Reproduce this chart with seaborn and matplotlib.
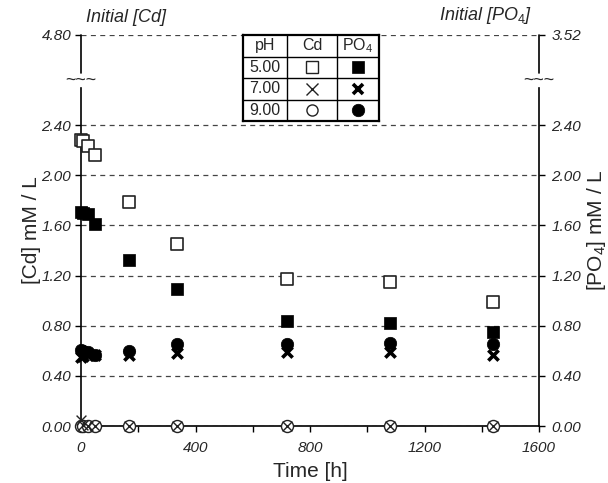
import matplotlib
matplotlib.use("Agg")
import matplotlib.pyplot as plt
import seaborn as sns
import pandas as pd
from matplotlib.ticker import FixedLocator, MultipleLocator

# ---------------- data ----------------
time_h = [0, 6, 24, 48, 168, 336, 720, 1080, 1440]
cd_ph5 = [2.28, 2.27, 2.23, 2.16, 1.79, 1.45, 1.17, 1.15, 0.99]
po4_ph5 = [1.71, 1.70, 1.69, 1.61, 1.32, 1.09, 0.84, 0.82, 0.75]
cd_ph7 = [0.05, 0.01, 0.0, 0.0, 0.0, 0.0, 0.0, 0.0, 0.0]
po4_ph7 = [0.55, 0.56, 0.57, 0.57, 0.57, 0.58, 0.59, 0.59, 0.57]
cd_ph9 = [0.0, 0.0, 0.0, 0.0, 0.0, 0.0, 0.0, 0.0, 0.0]
po4_ph9 = [0.61, 0.60, 0.59, 0.57, 0.60, 0.65, 0.65, 0.66, 0.65]

y_ticks = [0.0, 0.4, 0.8, 1.2, 1.6, 2.0, 2.4]
x_ticks = [0, 400, 800, 1200, 1600]
initial_cd = 4.80
initial_po4 = 3.52
ph_labels = ["5.00", "7.00", "9.00"]

# ---------------- style ----------------
sns.set_theme(style="ticks")
plt.rcParams["font.family"] = ["Liberation Sans", "DejaVu Sans"]
plt.rcParams["mathtext.fontset"] = "custom"
plt.rcParams["mathtext.rm"] = "Liberation Sans"
plt.rcParams["mathtext.it"] = "Liberation Sans:italic"

W, H = 608, 483
fig = plt.figure(figsize=(W / 100, H / 100), dpi=100)
fig.patch.set_facecolor("white")

L, R, B, T = 81, 539, 426, 35
ax = fig.add_axes([L / W, 1 - B / H, (R - L) / W, (B - T) / H])
ax.set_facecolor("white")
TOP = 3.118          # broken-axis position of the "initial" level
BRK_LO, BRK_HI = 2.695, 2.815

ax.set_xlim(0, 1600)
ax.set_ylim(0, TOP)

df = pd.DataFrame({"t": time_h, "cd5": cd_ph5, "po5": po4_ph5, "cd7": cd_ph7,
                   "po7": po4_ph7, "cd9": cd_ph9, "po9": po4_ph9})

common = dict(ax=ax, clip_on=False, zorder=5, legend=False)
sns.scatterplot(data=df, x="t", y="po9", marker="o", s=80, color="black",
                edgecolor="black", linewidth=0.5, **common)
sns.scatterplot(data=df, x="t", y="po7", marker="x", s=55, color="black",
                linewidth=2.6, **common)
sns.scatterplot(data=df, x="t", y="po5", marker="s", s=70, color="black",
                edgecolor="black", linewidth=0.5, **common)
sns.scatterplot(data=df, x="t", y="cd5", marker="s", s=70, color="white",
                edgecolor="#222222", linewidth=1.2, **common)
sns.scatterplot(data=df, x="t", y="cd9", marker="o", s=75, color="white",
                edgecolor="#222222", linewidth=1.0, **common)
sns.scatterplot(data=df, x="t", y="cd7", marker="x", s=50, color="#222222",
                linewidth=1.0, **common)

ax.set_xlabel("Time [h]", fontsize=15, labelpad=5)
ax.set_ylabel("[Cd] mM / L", fontsize=15)
ax.yaxis.set_label_coords(-0.088, 0.5)

# ticks
ax.xaxis.set_major_locator(FixedLocator(x_ticks))
ax.xaxis.set_minor_locator(MultipleLocator(200))
ax.set_yticks(y_ticks + [TOP])
ax.set_yticklabels([f"{v:.2f}" for v in y_ticks] + [f"{initial_cd:.2f}"])
ax.tick_params(axis="both", which="both", direction="out", length=4, width=1,
               color="black", labelsize=11, pad=3)
ax.tick_params(axis="x", which="both", pad=7)
for lab in ax.get_xticklabels() + ax.get_yticklabels():
    lab.set_fontstyle("italic")

# grid
ax.yaxis.grid(True, linestyle=(0, (4, 3.5)), color="#444444", linewidth=0.9)
ax.xaxis.grid(False)
ax.set_axisbelow(True)

for s in ["top", "right"]:
    ax.spines[s].set_visible(False)
for s in ["left", "bottom"]:
    ax.spines[s].set_color("black")
    ax.spines[s].set_linewidth(1.2)
ax.spines["left"].set_bounds(0, BRK_LO)

ytr = ax.get_yaxis_transform()
ax.plot([0, 0], [BRK_HI, TOP], transform=ytr, color="black", lw=1.2, clip_on=False)
ax.plot([1, 1], [BRK_HI, TOP], transform=ytr, color="black", lw=1.2, clip_on=False)
ax.text(0, (BRK_LO + BRK_HI) / 2, "~~~", transform=ytr, ha="center", va="center",
        fontsize=13, clip_on=False)
ax.text(1, (BRK_LO + BRK_HI) / 2, "~~~", transform=ytr, ha="center", va="center",
        fontsize=13, clip_on=False)

# right axis
ax2 = ax.twinx()
ax2.set_ylim(0, TOP)
ax2.set_yticks(y_ticks + [TOP])
ax2.set_yticklabels([f"{v:.2f}" for v in y_ticks] + [f"{initial_po4:.2f}"])
ax2.tick_params(axis="y", direction="out", length=4, width=1, color="black",
                labelsize=11, pad=5)
for lab in ax2.get_yticklabels():
    lab.set_fontstyle("italic")
for s in ["top", "left", "bottom"]:
    ax2.spines[s].set_visible(False)
ax2.spines["right"].set_color("black")
ax2.spines["right"].set_linewidth(1.2)
ax2.spines["right"].set_bounds(0, BRK_LO)
ax2.set_ylabel("[PO$_4$] mM / L", fontsize=15, rotation=90)
ax2.yaxis.set_label_coords(1.1, 0.5)
ax2.grid(False)

# "Initial" annotations
ax.text(0.012, TOP + 0.07, "Initial [Cd]", transform=ytr, fontsize=13,
        fontstyle="italic", ha="left", va="bottom")
ax.text(0.985, TOP + 0.07, "Initial [PO$_4$]", transform=ytr, fontsize=13,
        fontstyle="italic", ha="right", va="bottom")

# ---------------- legend table ----------------
tx0, tx1, ty0, ty1 = 243, 379, 35, 121
tab = fig.add_axes([tx0 / W, 1 - ty1 / H, (tx1 - tx0) / W, (ty1 - ty0) / H])
tab.set_xlim(tx0, tx1)
tab.set_ylim(ty1, ty0)
tab.set_facecolor("white")
for s in tab.spines.values():
    s.set_color("black")
    s.set_linewidth(1.6)
tab.set_xticks([])
tab.set_yticks([])
cols = [243, 287, 337, 379]
rows = [35, 56.5, 78, 99.5, 121]
for c in cols[1:-1]:
    tab.plot([c, c], [ty0, ty1], color="black", lw=1.0)
for r in rows[1:-1]:
    tab.plot([tx0, tx1], [r, r], color="black", lw=1.0)
cx = [(cols[i] + cols[i + 1]) / 2 for i in range(3)]
cy = [(rows[i] + rows[i + 1]) / 2 for i in range(4)]
for txt, x in zip(["pH", "Cd", "PO$_4$"], cx):
    tab.text(x, cy[0], txt, ha="center", va="center", fontsize=11.5)
for lab, y in zip(ph_labels, cy[1:]):
    tab.text(cx[0], y, lab, ha="center", va="center", fontsize=11.5)
cd_style = [dict(marker="s", ms=8, mfc="white", mec="#222222", mew=1.0),
            dict(marker="x", ms=8, mfc="none", mec="#222222", mew=1.0),
            dict(marker="o", ms=8, mfc="white", mec="#222222", mew=1.0)]
po_style = [dict(marker="s", ms=8, mfc="black", mec="black", mew=0.5),
            dict(marker="x", ms=7, mfc="none", mec="black", mew=2.6),
            dict(marker="o", ms=9, mfc="black", mec="black", mew=0.5)]
for y, st in zip(cy[1:], cd_style):
    tab.plot([cx[1]], [y], ls="none", **st)
for y, st in zip(cy[1:], po_style):
    tab.plot([cx[2]], [y], ls="none", **st)

fig.savefig("out.png", dpi=100, facecolor="white")
